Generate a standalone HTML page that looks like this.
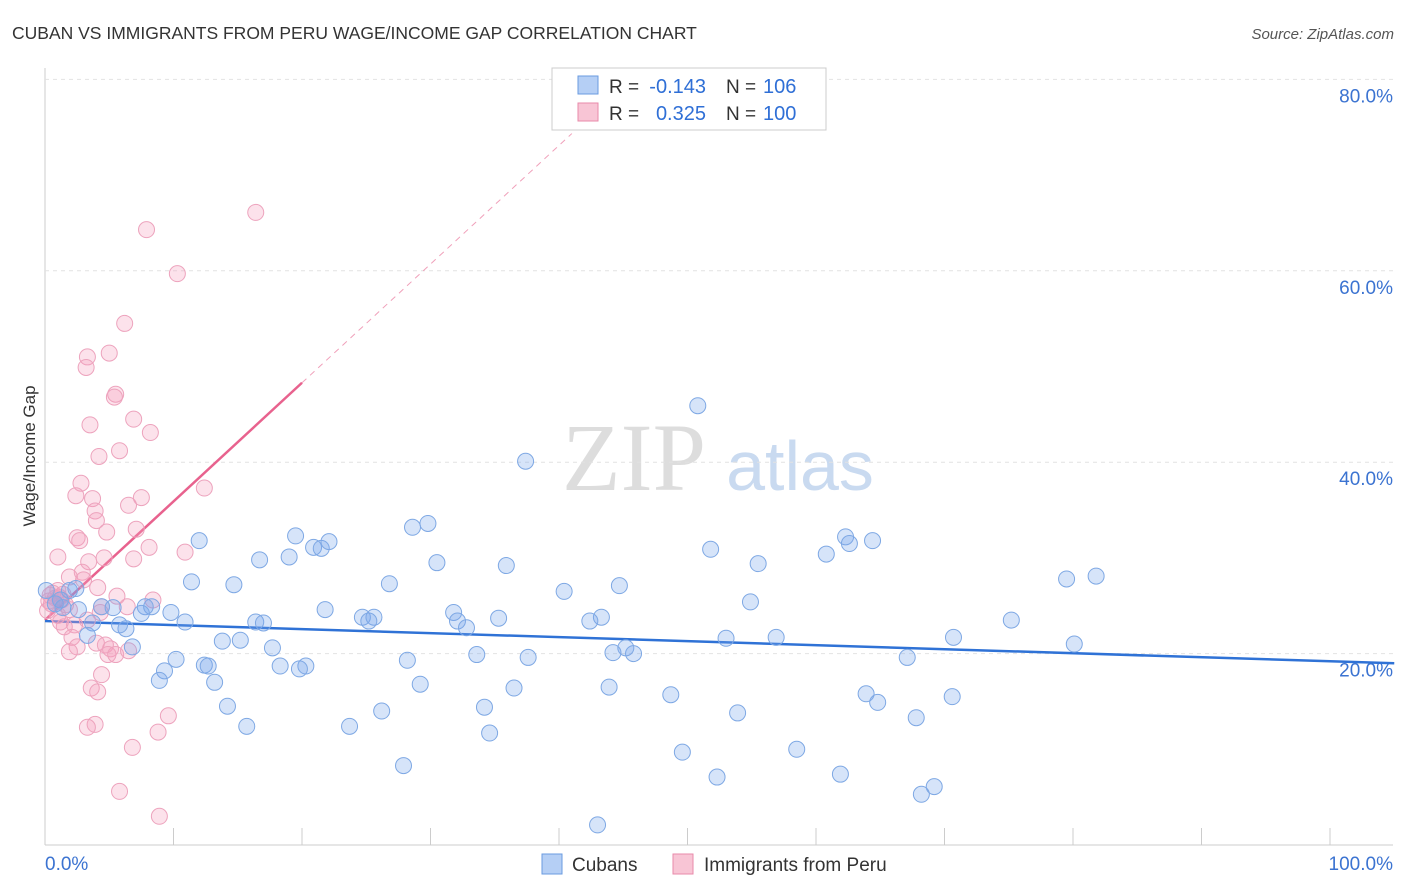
<!DOCTYPE html>
<html><head><meta charset="utf-8"><style>
body{margin:0;background:#fff;font-family:"Liberation Sans",sans-serif;}
svg{display:block}
</style></head><body>
<svg id="chart" width="1406" height="892">
<text x="12" y="39" font-size="17.5" fill="#333">CUBAN VS IMMIGRANTS FROM PERU WAGE/INCOME GAP CORRELATION CHART</text>
<text x="1394" y="39" font-size="15" fill="#555" font-style="italic" text-anchor="end">Source: ZipAtlas.com</text>
<text x="35" y="456" font-size="17" fill="#333" text-anchor="middle" transform="rotate(-90 35 456)">Wage/Income Gap</text>
<g>
<text x="634" y="490" font-size="96" fill="#ddd" font-family="Liberation Serif,serif" text-anchor="middle">ZIP</text>
<text x="800" y="490" font-size="70" fill="#c9daf0" text-anchor="middle">atlas</text>
</g>
<g id="grid"></g>
<g id="lines"></g>
<g id="pts"></g>
<g>
<rect x="552" y="68" width="274" height="62" fill="#fff" stroke="#ccc"/>
<rect x="578" y="76" width="20" height="18" fill="#b5cff5" stroke="#6a9be0"/>
<rect x="578" y="103" width="20" height="18" fill="#f8c5d5" stroke="#e88aaa"/>
<text x="609" y="93" font-size="19" fill="#333">R =</text>
<text x="706" y="93" font-size="20" fill="#2f6fd6" text-anchor="end">-0.143</text>
<text x="726" y="93" font-size="19" fill="#333">N =</text>
<text x="763" y="93" font-size="20" fill="#2f6fd6">106</text>
<text x="609" y="120" font-size="19" fill="#333">R =</text>
<text x="706" y="120" font-size="20" fill="#2f6fd6" text-anchor="end">0.325</text>
<text x="726" y="120" font-size="19" fill="#333">N =</text>
<text x="763" y="120" font-size="20" fill="#2f6fd6">100</text>
</g>
<g>
<rect x="542" y="854" width="20" height="20" fill="#b5cff5" stroke="#6a9be0"/>
<text x="572" y="871" font-size="19" fill="#333">Cubans</text>
<rect x="673" y="854" width="20" height="20" fill="#f8c5d5" stroke="#e88aaa"/>
<text x="704" y="871" font-size="19" fill="#333">Immigrants from Peru</text>
</g>
</svg>
<script>
const yTicks=[20,40,60,80];
const yTickLabels=["20.0%","40.0%","60.0%","80.0%"];
const xTicks=[10,20,30,40,50,60,70,80,90,100];
const cubanX=[0.1,12.0,11.4,14.7,16.7,19.5,19.0,20.9,21.5,22.1,28.6,29.8,26.8,30.5,37.4,35.9,40.4,44.7,50.8,51.8,55.5,54.9,60.8,62.3,62.6,64.4,79.5,81.8,75.2,70.7,80.1,67.1,63.9,64.8,70.6,67.8,61.9,68.2,69.2,58.5,52.3,49.6,53.9,48.7,43.9,56.9,53.0,45.8,45.2,44.2,43.3,42.4,35.3,31.8,32.1,32.8,33.6,37.6,36.5,34.2,34.6,43.0,29.2,28.2,27.9,26.2,23.7,24.7,25.6,25.2,21.8,20.3,19.8,18.3,17.7,16.4,17.0,15.2,13.8,13.2,12.4,12.7,14.2,15.7,10.9,10.2,9.3,8.9,9.8,8.3,7.8,7.5,6.8,6.3,5.8,5.3,4.4,3.7,3.3,2.6,1.2,0.8,1.9,1.4,2.4];
const cubanY=[26.6,31.8,27.5,27.2,29.8,32.3,30.1,31.1,31.0,31.7,33.2,33.6,27.3,29.5,40.1,29.2,26.5,27.1,45.9,30.9,29.4,25.4,30.4,32.2,31.5,31.8,27.8,28.1,23.5,21.7,21.0,19.6,15.8,14.9,15.5,13.3,7.4,5.3,6.1,10.0,7.1,9.7,13.8,15.7,16.5,21.7,21.6,20.0,20.6,20.1,23.8,23.4,23.7,24.3,23.4,22.7,19.9,19.6,16.4,14.4,11.7,2.1,16.8,19.3,8.3,14.0,12.4,23.8,23.8,23.4,24.6,18.7,18.4,18.7,20.6,23.3,23.2,21.4,21.3,17.0,18.8,18.7,14.5,12.4,23.3,19.4,18.2,17.2,24.3,24.9,24.9,24.2,20.7,22.6,23.0,24.8,24.9,23.2,21.9,24.6,25.6,25.2,26.6,24.8,26.8];
const peruX=[16.4,7.9,10.3,6.2,5.0,3.3,3.2,5.5,5.4,6.9,8.2,3.5,5.8,4.2,12.4,2.8,2.4,3.7,3.9,6.5,7.5,4.0,4.8,7.1,2.5,2.7,8.1,10.9,1.0,3.4,4.6,6.9,2.9,1.9,3.0,4.1,5.6,4.4,6.4,8.4,4.3,2.3,3.3,1.5,2.1,4.0,4.7,5.1,4.9,5.5,6.5,2.5,1.9,4.4,3.6,4.1,3.9,3.3,9.6,8.8,6.8,5.8,8.9,1.0,0.8,0.4,0.5,1.3,1.6,0.2,1.0,1.2,1.9,0.6,1.1,0.3,1.4];
const peruY=[66.1,64.3,59.7,54.5,51.4,51.0,49.9,47.1,46.8,44.5,43.1,43.9,41.2,40.6,37.3,37.8,36.5,36.2,34.9,35.5,36.3,33.9,32.7,33.0,32.1,31.8,31.1,30.6,30.1,29.6,30.0,29.9,28.5,28.0,27.7,26.9,26.0,24.9,24.9,25.6,24.3,23.0,23.5,22.8,21.7,21.1,20.9,20.5,19.9,19.9,20.3,20.7,20.2,17.8,16.4,16.0,12.6,12.3,13.5,11.8,10.2,5.6,3.0,26.6,25.8,26.1,25.2,25.6,25.1,24.5,24.0,23.3,24.6,26.3,25.9,25.5,26.2];
const cubanTrend=[23.4,19.2];
const peruTrend=[23.5,48.3];

const NS="http://www.w3.org/2000/svg";
const xs=v=>45+v*12.85, ys=v=>845-v*9.57;
function mk(tag,attrs,parent){const e=document.createElementNS(NS,tag);for(const k in attrs)e.setAttribute(k,attrs[k]);parent.appendChild(e);return e;}
const grid=document.getElementById('grid'),lines=document.getElementById('lines'),pts=document.getElementById('pts');
let ax=mk('line',{x1:45,y1:68,x2:45,y2:845,stroke:'#ccc'},grid);


let bx=mk('line',{x1:45,y1:845,x2:1393,y2:845,stroke:'#ccc'},grid);


yTicks.forEach((t,i)=>{
 const g=mk('line',{x1:45,y1:ys(t),x2:1393,y2:ys(t),stroke:'#e2e2e2','stroke-dasharray':'4,4'},grid);
 
 
 const l=mk('text',{x:1393,y:ys(t)+23,'font-size':19,fill:'#3b73d1','text-anchor':'end'},grid);
 l.textContent=yTickLabels[i];
 
 
});
xTicks.forEach(t=>{
 const m=mk('line',{x1:xs(t),y1:828,x2:xs(t),y2:845,stroke:'#ccc'},grid);
 
 
});
let x0=mk('text',{x:45,y:870,'font-size':19,fill:'#3b73d1'},grid);x0.textContent='0.0%';


let x1=mk('text',{x:1393,y:870,'font-size':19,fill:'#3b73d1','text-anchor':'end'},grid);x1.textContent='100.0%';



function addPts(X,Y,fill,stroke,name){
 X.forEach((x,i)=>{
  const c=mk('circle',{cx:xs(x),cy:ys(Y[i]),r:8,fill:fill,stroke:stroke,'stroke-width':1},pts);
  
  
 });
}
addPts(peruX,peruY,'rgba(244,160,188,0.3)','#eda3bd','peru-point');
addPts(cubanX,cubanY,'rgba(120,165,235,0.3)','#7ea8e4','cuban-point');

const slope=(peruTrend[1]-peruTrend[0])/20;
let pd=mk('line',{x1:xs(20),y1:ys(peruTrend[1]),x2:xs(41),y2:ys(peruTrend[0]+slope*41),stroke:'#f0a0ba','stroke-dasharray':'6,5','stroke-width':1},lines);


let pl=mk('line',{x1:xs(0),y1:ys(peruTrend[0]),x2:xs(20),y2:ys(peruTrend[1]),stroke:'#e8628e','stroke-width':2.5},lines);


const cs=cubanTrend[1]-cubanTrend[0];
let cl=mk('line',{x1:xs(0),y1:ys(cubanTrend[0]),x2:xs(105),y2:ys(cubanTrend[0]+cs*1.05),stroke:'#2f72d6','stroke-width':2.5},lines);


</script>
</body></html>
